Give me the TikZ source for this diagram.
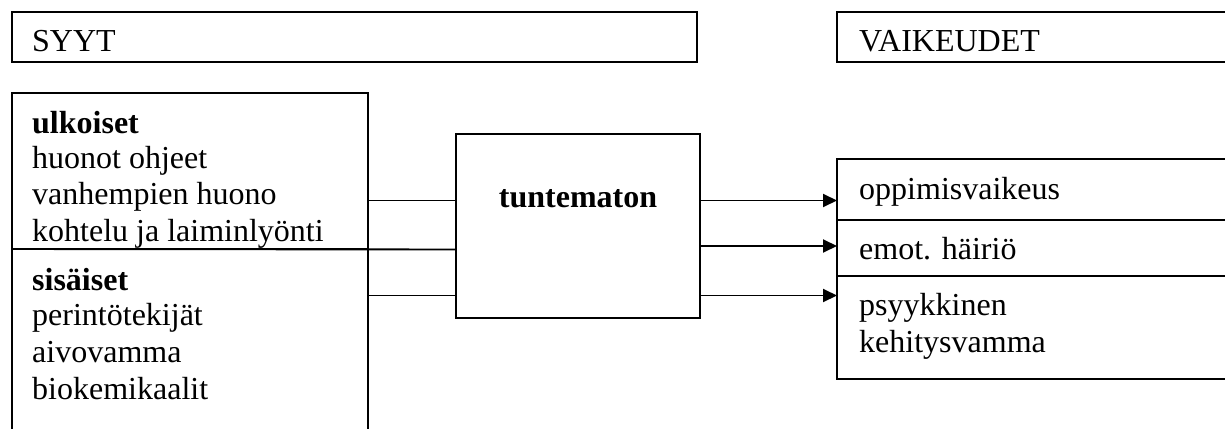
\documentclass[tikz,border=0pt]{standalone}
\usepackage{fontspec}
\setmainfont{Liberation Serif}
\usetikzlibrary{arrows.meta}
\begin{document}
\begin{tikzpicture}[x=1pt,y=-1pt,
  box/.style={draw, line width=1.9pt, inner sep=0pt, outer sep=0pt, anchor=north west},
  txt/.style={anchor=base west, inner sep=0pt, font=\fontsize{32}{36}\selectfont},
  bold/.style={txt, font=\fontsize{32}{36}\selectfont\bfseries},
  link/.style={line width=1.9pt},
  arr/.style={line width=1.9pt, -{Triangle[length=14pt,width=13pt]}}]
\useasboundingbox (0,0) rectangle (1225,428);
\clip (0,0) rectangle (1225,428);
% boxes
\node[box, line width=1.5pt, minimum width=685pt, minimum height=50pt] (syyt) at (12,12) {};
\node[box, line width=1.5pt, minimum width=500pt, minimum height=50pt] (vaik) at (837,12) {};
\node[box, minimum width=356pt, minimum height=156pt] (ulk) at (12,93) {};
\node[box, minimum width=356pt, minimum height=250pt] (sis) at (12,249) {};
\node[box, minimum width=244pt, minimum height=184pt] (tun) at (456,134) {};
\node[box, minimum width=500pt, minimum height=61pt] (opp) at (837,159) {};
\node[box, minimum width=500pt, minimum height=56pt] (emo) at (837,220) {};
\node[box, minimum width=500pt, minimum height=103pt] (psy) at (837,276) {};
% texts
\node[txt] (t-syyt) at (32,52) {SYYT};
\node[txt] (t-vaik) at (859,52) {VAIKEUDET};
\node[bold] (t-ulk) at (32,133) {ulkoiset};
\node[txt] (t-ulk1) at (32,168) {huonot ohjeet};
\node[txt] (t-ulk2) at (32,204) {vanhempien huono};
\node[txt] (t-ulk3) at (32,241) {kohtelu ja laiminlyönti};
\node[bold] (t-sis) at (32,290) {sisäiset};
\node[txt] (t-sis1) at (32,325) {perintötekijät};
\node[txt] (t-sis2) at (32,362) {aivovamma};
\node[txt] (t-sis3) at (32,399) {biokemikaalit};
\node[bold, anchor=base] (t-tun) at (578,207) {tuntematon};
\node[txt] (t-opp) at (859,199) {oppimisvaikeus};
\node[txt] (t-emo) at (859,259) {emot. häiriö};
\node[txt] (t-psy1) at (859,315) {psyykkinen};
\node[txt] (t-psy2) at (859,352) {kehitysvamma};
% connectors
\draw[link] (ulk.east |- 0,200.5) -- (tun.west |- 0,200.5);
\draw[link] (sis.north west) -- (tun.west |- 0,249.5);
\draw[link] (sis.east |- 0,295.5) -- (tun.west |- 0,295.5);
\draw[arr] (tun.east |- 0,200.5) -- (opp.west |- 0,200.5);
\draw[arr] (tun.east |- 0,246) -- (emo.west |- 0,246);
\draw[arr] (tun.east |- 0,295.5) -- (psy.west |- 0,295.5);
\end{tikzpicture}
\end{document}
